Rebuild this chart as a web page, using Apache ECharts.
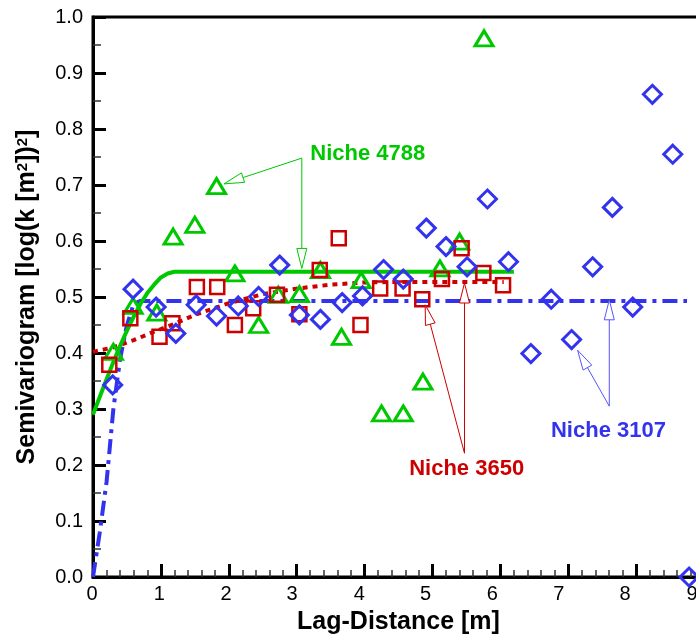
<!DOCTYPE html>
<html>
<head>
<meta charset="utf-8">
<script src="https://cdn.jsdelivr.net/npm/echarts@6/dist/echarts.min.js"></script>
<style>
html,body{margin:0;padding:0;background:#fff;}
#chart{width:696px;height:637px;}
</style>
</head>
<body>
<div id="chart"></div>
<script>
// ---- data ----
const xTicks = [0, 1, 2, 3, 4, 5, 6, 7, 8, 9];
const yTicks = [0.0, 0.1, 0.2, 0.3, 0.4, 0.5, 0.6, 0.7, 0.8, 0.9, 1.0];

// Niche 4788 (green triangles)
const n4788X = [0.30, 0.59, 0.94, 1.18, 1.50, 1.82, 2.09, 2.44, 2.73, 3.04, 3.35, 3.66, 3.95, 4.25, 4.57, 4.86, 5.11, 5.40, 5.76];
const n4788Y = [0.402, 0.484, 0.472, 0.608, 0.629, 0.698, 0.542, 0.450, 0.504, 0.505, 0.548, 0.429, 0.530, 0.292, 0.292, 0.349, 0.551, 0.599, 0.962];
// Niche 3650 (red squares)
const n3650X = [0.24, 0.55, 0.98, 1.17, 1.53, 1.83, 2.09, 2.36, 2.71, 3.04, 3.34, 3.62, 3.94, 4.23, 4.56, 4.85, 5.14, 5.43, 5.75, 6.04];
const n3650Y = [0.379, 0.462, 0.429, 0.453, 0.518, 0.518, 0.450, 0.480, 0.504, 0.469, 0.548, 0.605, 0.450, 0.515, 0.515, 0.496, 0.532, 0.587, 0.543, 0.521];
// Niche 3107 (blue diamonds)
const n3107X = [0.29, 0.59, 0.93, 1.22, 1.52, 1.82, 2.14, 2.44, 2.75, 3.04, 3.35, 3.67, 3.97, 4.28, 4.57, 4.91, 5.20, 5.51, 5.81, 6.12, 6.45, 6.75, 7.05, 7.36, 7.65, 7.95, 8.24, 8.54, 8.78];
const n3107Y = [0.343, 0.514, 0.482, 0.435, 0.486, 0.466, 0.484, 0.501, 0.557, 0.468, 0.460, 0.490, 0.502, 0.549, 0.532, 0.623, 0.590, 0.554, 0.675, 0.563, 0.399, 0.496, 0.424, 0.554, 0.660, 0.482, 0.862, 0.755, 0.000];

// model curves
const m4788X = [0, 0.1, 0.2, 0.3, 0.4, 0.5, 0.6, 0.7, 0.8, 0.9, 1.0, 1.1, 1.2, 6.2];
const m4788Y = [0.29, 0.322, 0.353, 0.384, 0.413, 0.44, 0.465, 0.488, 0.507, 0.522, 0.535, 0.542, 0.545, 0.545];
const m3650X = [0, 0.3, 0.6, 0.9, 1.2, 1.5, 2.0, 2.5, 3.0, 3.5, 4.0, 4.5, 5.0, 6.05];
const m3650Y = [0.402, 0.41, 0.423, 0.438, 0.452, 0.468, 0.489, 0.505, 0.515, 0.522, 0.526, 0.527, 0.527, 0.527];
const m3107X = [0, 0.1, 0.2, 0.3, 0.4, 0.5, 0.6, 0.7, 8.75];
const m3107Y = [0, 0.08, 0.17, 0.30, 0.39, 0.45, 0.488, 0.493, 0.493];

// annotations (data units)
const labelText = ['Niche 4788', 'Niche 3650', 'Niche 3107'];
const labelX = [3.20, 4.657, 6.746];
const labelY = [0.756, 0.193, 0.261];
const arrowNiche = [0, 0, 1, 1, 2, 2];
const arrowStartX = [3.076, 3.076, 5.472, 5.472, 7.605, 7.605];
const arrowStartY = [0.748, 0.748, 0.221, 0.221, 0.305, 0.305];
const arrowTipX = [1.93, 3.076, 4.893, 5.472, 7.138, 7.605];
const arrowTipY = [0.702, 0.551, 0.486, 0.525, 0.405, 0.495];

// ---- styling ----
const GREEN = '#00c800';
const RED = '#cc0000';
const BLUE = '#3333ee';
const nicheColor = [GREEN, RED, BLUE];
const arrowColor = [GREEN, RED, '#5555ff'];
const FONT = '"Liberation Sans", Arial, Helvetica, sans-serif';
// the reference's x tick labels drift slightly left of their ticks (pixels)
const xLabelShift = [1, 1.7, 2.6, 4.7, 5.3, 7, 8, 9.4, 11, 12];

const zip = (xs, ys) => xs.map((x, i) => [x, ys[i]]);

const xLabelRich = {};
xLabelShift.forEach((s, i) => {
  xLabelRich['l' + i] = {fontSize: 20, fontFamily: FONT, color: '#000', padding: [0, 2 * s, 0, 0]};
});

const chart = echarts.init(document.getElementById('chart'), null, {renderer: 'canvas'});

const axisCommon = {
  axisLine: {show: true, onZero: false, lineStyle: {color: '#000', width: 3}},
  axisTick: {show: true, inside: true, length: 13, lineStyle: {color: '#000', width: 3}},
  splitLine: {show: false},
  minorSplitLine: {show: false}
};

const option = {
  animation: false,
  backgroundColor: '#fff',
  grid: {left: 93, top: 17, width: 611, height: 560, show: true, borderColor: '#000', borderWidth: 3,
    containLabel: false, outerBoundsMode: 'none'},
  xAxis: Object.assign({}, axisCommon, {
    type: 'value', min: xTicks[0], max: xTicks[xTicks.length - 1], interval: 1,
    minorTick: {show: true, splitNumber: 5, length: 7, lineStyle: {color: '#333', width: 1.5}},
    axisLabel: {color: '#000', fontSize: 20, fontFamily: FONT, margin: 7,
      formatter: v => { const i = Math.round(v); return '{l' + i + '|' + xTicks[i] + '}'; },
      rich: xLabelRich},
    name: 'Lag-Distance [m]', nameLocation: 'middle', nameGap: 33,
    nameTextStyle: {color: '#000', fontSize: 25, fontWeight: 'bold', fontFamily: FONT}
  }),
  yAxis: Object.assign({}, axisCommon, {
    type: 'value', min: yTicks[0], max: yTicks[yTicks.length - 1], interval: 0.1,
    minorTick: {show: true, splitNumber: 2, length: 8, lineStyle: {color: '#333', width: 1.5}},
    axisLabel: {color: '#000', fontSize: 20, fontFamily: FONT, margin: 10, padding: [5, 0, 0, 0],
      formatter: v => yTicks[Math.round(v * 10)].toFixed(1)},
    name: 'Semivariogram [log(k [m{s|2}]){s|2}]', nameLocation: 'middle', nameGap: 53, nameRotate: 90,
    nameTextStyle: {color: '#000', fontSize: 25, fontWeight: 'bold', fontFamily: FONT,
      rich: {s: {fontSize: 15, fontWeight: 'bold', fontFamily: FONT, color: '#000', verticalAlign: 'top', padding: [0, 0, 10, 0]}}}
  }),
  series: [
    {type: 'line', data: zip(m3107X, m3107Y), showSymbol: false, symbol: 'none', z: 2,
      lineStyle: {color: BLUE, width: 4, type: [15, 6, 4, 6]}},
    {type: 'line', data: zip(m3650X, m3650Y), showSymbol: false, symbol: 'none', z: 2,
      lineStyle: {color: RED, width: 4, type: [5, 5]}},
    {type: 'line', data: zip(m4788X, m4788Y), showSymbol: false, symbol: 'none', z: 2,
      lineStyle: {color: GREEN, width: 4}},
    {type: 'scatter', data: zip(n4788X, n4788Y), symbol: 'triangle', symbolSize: [18, 15], z: 3,
      itemStyle: {color: 'rgba(255,255,255,0)', borderColor: GREEN, borderWidth: 3, opacity: 1}},
    {type: 'scatter', data: zip(n3650X, n3650Y), symbol: 'rect', symbolSize: 14, z: 3,
      itemStyle: {color: 'rgba(255,255,255,0)', borderColor: RED, borderWidth: 2.5, opacity: 1}},
    {type: 'scatter', data: zip(n3107X, n3107Y), symbol: 'diamond', symbolSize: 18, z: 3,
      itemStyle: {color: 'rgba(255,255,255,0)', borderColor: BLUE, borderWidth: 3, opacity: 1}},
    {type: 'custom', z: 5, silent: true,
      data: arrowStartX.map((x, i) => [x, arrowStartY[i], arrowTipX[i], arrowTipY[i], arrowNiche[i]]),
      encode: {x: [0, 2], y: [1, 3]},
      renderItem: function (params, api) {
        const S = api.coord([api.value(0), api.value(1)]);
        const T = api.coord([api.value(2), api.value(3)]);
        const c = arrowColor[api.value(4)];
        const dx = T[0] - S[0], dy = T[1] - S[1];
        const len = Math.sqrt(dx * dx + dy * dy);
        const ux = dx / len, uy = dy / len;
        const L = 20, w = 5;
        const B = [T[0] - ux * L, T[1] - uy * L];
        const nx = -uy, ny = ux;
        return {type: 'group', children: [
          {type: 'line', shape: {x1: S[0], y1: S[1], x2: B[0], y2: B[1]}, style: {stroke: c, lineWidth: 1}},
          {type: 'polygon', shape: {points: [T, [B[0] + nx * w, B[1] + ny * w], [B[0] - nx * w, B[1] - ny * w]]},
            style: {fill: '#fff', stroke: c, lineWidth: 1}}
        ]};
      }
    },
    {type: 'custom', z: 6, silent: true,
      data: labelX.map((x, i) => [x, labelY[i], i]),
      encode: {x: 0, y: 1},
      renderItem: function (params, api) {
        const i = api.value(2);
        const P = api.coord([api.value(0), api.value(1)]);
        return {type: 'text', x: P[0], y: P[1],
          style: {text: labelText[i], fill: nicheColor[i], font: 'bold 22px ' + FONT, align: 'left', verticalAlign: 'middle'}};
      }
    }
  ]
};
chart.setOption(option);
</script>
</body>
</html>
